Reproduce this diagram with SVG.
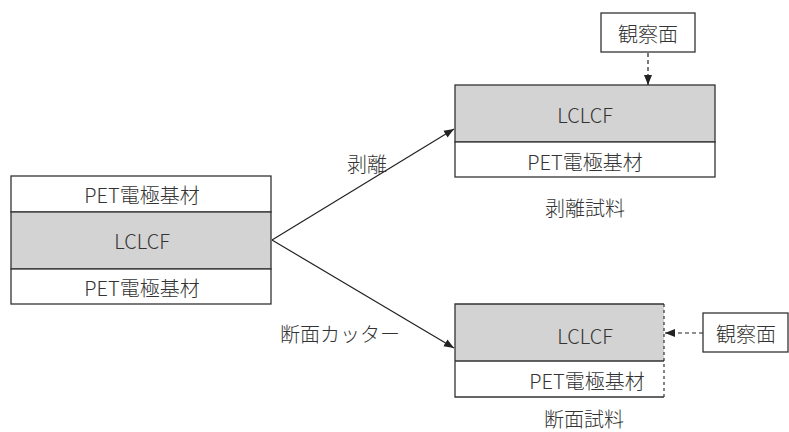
<svg xmlns="http://www.w3.org/2000/svg" width="789" height="432" viewBox="0 0 789 432">
<style>
text{font-family:"Noto Sans CJK JP","Noto Sans",sans-serif;font-size:20px;font-weight:300;fill:#333;text-anchor:middle;dominant-baseline:central}
.w{fill:#fff;stroke:#333;stroke-width:1.3}
.g{fill:#d3d3d3;stroke:#333;stroke-width:1.3}
.ln{stroke:#222;stroke-width:1.2;fill:none}
.d{stroke:#222;stroke-width:1.2;fill:none;stroke-dasharray:4 3}
</style>
<defs>
<marker id="ah" viewBox="0 0 10 10" refX="10" refY="5" markerWidth="10" markerHeight="10" markerUnits="userSpaceOnUse" orient="auto">
<path d="M0,1 L10,5 L0,9 Z" fill="#222"/>
</marker>
</defs>
<g id="left-stack">
<rect class="w" x="11" y="176" width="260" height="36"/>
<rect class="g" x="11" y="212" width="260" height="57"/>
<rect class="w" x="11" y="269" width="260" height="35"/>
<text x="142" y="194">PET電極基材</text>
<text x="142" y="240">LCLCF</text>
<text x="142" y="287">PET電極基材</text>
</g>
<g id="peel-sample">
<rect class="g" x="455" y="85" width="260" height="57"/>
<rect class="w" x="455" y="142" width="260" height="35"/>
<text x="585" y="114">LCLCF</text>
<text x="585" y="161">PET電極基材</text>
<text x="585" y="207">剥離試料</text>
</g>
<g id="obs-top">
<rect class="w" x="601" y="13" width="94" height="39"/>
<text x="648" y="33">観察面</text>
</g>
<g id="section-sample">
<rect x="455" y="304" width="209" height="57" fill="#d3d3d3"/>
<rect x="455" y="361" width="209" height="36" fill="#fff"/>
<path d="M664,304 L455,304 L455,397 L664,397 M455,361 L664,361" stroke="#333" stroke-width="1.3" fill="none"/>
<path d="M664,304 L664,397" stroke="#333" stroke-width="1.2" fill="none" stroke-dasharray="3 3"/>
<text x="585" y="335">LCLCF</text>
<text x="587" y="380">PET電極基材</text>
<text x="584" y="418">断面試料</text>
</g>
<g id="obs-right">
<rect class="w" x="703" y="313" width="85" height="39"/>
<text x="746" y="333">観察面</text>
</g>
<g id="connectors">
<line class="ln" x1="272" y1="240" x2="454" y2="129" marker-end="url(#ah)"/>
<line class="ln" x1="272" y1="240" x2="454" y2="348" marker-end="url(#ah)"/>
<line class="d" x1="648" y1="53" x2="648" y2="85" marker-end="url(#ah)"/>
<line class="d" x1="703" y1="333" x2="665" y2="333" marker-end="url(#ah)"/>
<text x="367" y="163">剥離</text>
<text x="340" y="333">断面カッター</text>
</g>
</svg>
